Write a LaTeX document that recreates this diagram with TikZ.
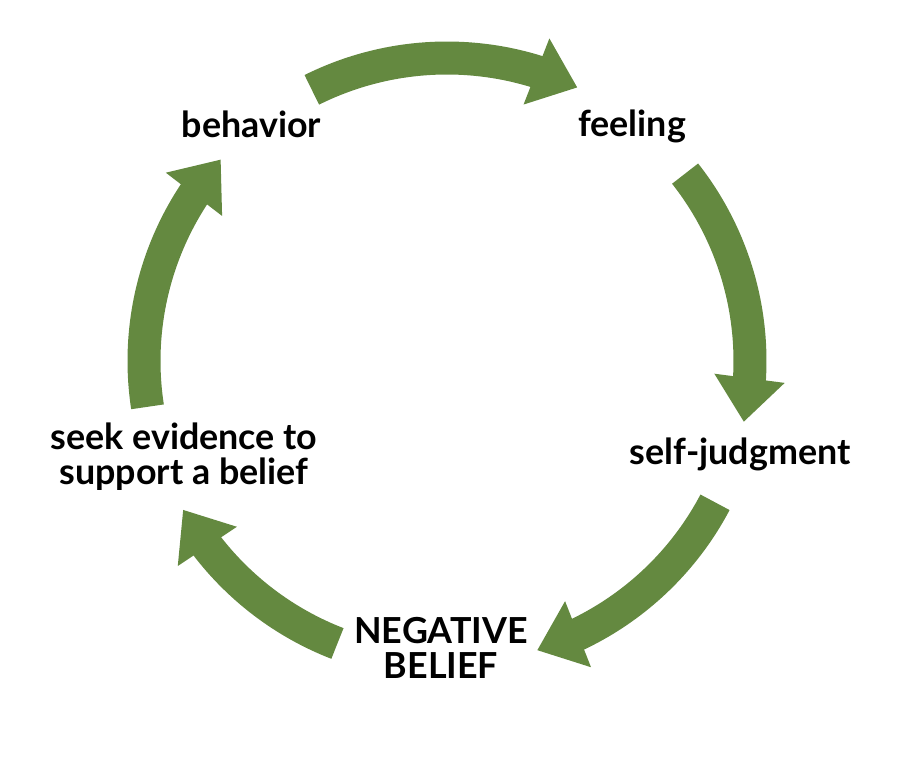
\documentclass[tikz,border=0pt]{standalone}
\usepackage{fontspec}
\setmainfont{Lato}
\usetikzlibrary{arrows.meta,bending,calc}
\definecolor{cyclegreen}{RGB}{100,137,64}

\begin{document}
\begin{tikzpicture}[
  x=0.02cm, y=0.02cm,
  every node/.style={font=\fontsize{20.4}{19.9}\selectfont\bfseries, inner sep=0pt},
  stage/.style={anchor=base},
  twoline/.style={anchor=center, align=center},
  flow/.style={draw=cyclegreen, line width=0.66cm,
    -{Triangle[width=1.36cm, length=0.88cm, flex]}},
]
\useasboundingbox (0,0) rectangle (900,-773);

% the five stages
\node[stage] (behavior) at (251.5,-138) {behavior};
\node[stage] (feeling) at (632,-137) {feeling};
\node[stage] (judgment) at (740,-465) {self-judgment};
\node[twoline] (belief) at (441,-647.5) {NEGATIVE\\BELIEF};
\node[twoline] (evidence) at (184,-457) {seek evidence to\\support a belief};

% cycle arrows, clockwise round the centre
\coordinate (O) at (447,-361);
\coordinate (behavior-out) at ($(O)+(116.5:303)$);
\coordinate (feeling-out) at ($(O)+(38.2:303)$);
\coordinate (judgment-out) at ($(O)+(-27.8:303)$);
\coordinate (belief-out) at ($(O)+(-111.2:303)$);
\coordinate (evidence-out) at ($(O)+(188.7:303)$);

\draw[flow] (behavior-out) arc[start angle=116.5, end angle=64.5, radius=303];
\draw[flow] (feeling-out) arc[start angle=38.2, end angle=-11.6, radius=303];
\draw[flow] (judgment-out) arc[start angle=-27.8, end angle=-72.7, radius=303];
\draw[flow] (belief-out) arc[start angle=-111.2, end angle=-150.6, radius=303];
\draw[flow] (evidence-out) arc[start angle=188.7, end angle=138.3, radius=303];
\end{tikzpicture}
\end{document}
